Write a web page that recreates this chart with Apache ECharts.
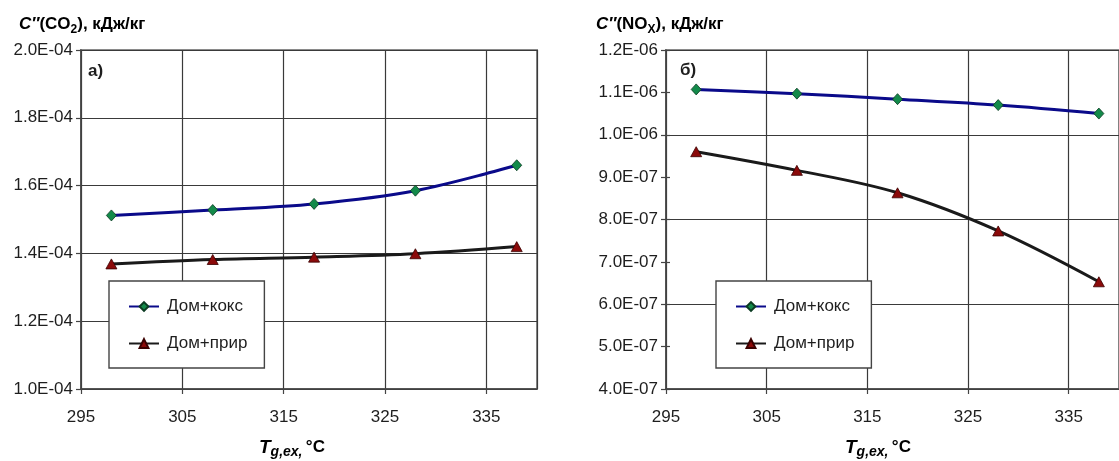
<!DOCTYPE html>
<html>
<head>
<meta charset="utf-8">
<script src="https://cdn.jsdelivr.net/npm/echarts@6/dist/echarts.min.js"></script>
<style>
html,body{margin:0;padding:0;background:#fff;}
#chart{width:1119px;height:461px;}
</style>
</head>
<body>
<div id="chart"></div>
<script>
// ---- data ----
const xValues = [298, 308, 318, 328, 338];
const seriesNames = ['Дом+кокс', 'Дом+прир'];
const co2Koks = [1.512e-4, 1.528e-4, 1.546e-4, 1.585e-4, 1.660e-4];
const co2Prir = [1.369e-4, 1.382e-4, 1.389e-4, 1.399e-4, 1.420e-4];
const noxKoks = [1.107e-6, 1.097e-6, 1.084e-6, 1.070e-6, 1.050e-6];
const noxPrir = [9.60e-7, 9.16e-7, 8.63e-7, 7.73e-7, 6.53e-7];
const xTickLabels = ['295', '305', '315', '325', '335'];
const yTicksCO2 = ['1.0E-04', '1.2E-04', '1.4E-04', '1.6E-04', '1.8E-04', '2.0E-04'];
const yTicksNOx = ['4.0E-07', '5.0E-07', '6.0E-07', '7.0E-07', '8.0E-07', '9.0E-07', '1.0E-06', '1.1E-06', '1.2E-06'];

const FONT = '"Liberation Sans", Arial, sans-serif';
const AX = '#444';
const GRIDC = '#3a3a3a';
const TXT = '#1e1e1e';

function pairs(arr) { return xValues.map((x, i) => [x, arr[i]]); }

function xAxisCfg(gi) {
  return {
    type: 'value', gridIndex: gi, min: 295, max: 340, interval: 10,
    axisLine: { show: true, lineStyle: { color: AX, width: 1.5 } },
    axisTick: { show: true, length: 5, lineStyle: { color: AX, width: 1.2 } },
    axisLabel: {
      showMaxLabel: false, margin: 20, fontFamily: FONT, fontSize: 17, color: TXT,
      formatter: v => { const i = Math.round((v - 295) / 10); return xTickLabels[i] !== undefined ? xTickLabels[i] : ''; }
    },
    splitLine: { show: true, lineStyle: { color: GRIDC, width: 1.2 } }
  };
}

const blueStyle = {
  type: 'line', smooth: 0.35, symbol: 'diamond', symbolSize: [10, 11],
  lineStyle: { color: '#0a0a8a', width: 3 },
  itemStyle: { color: '#138a4a', borderColor: '#0b3b22', borderWidth: 0.8 },
  z: 5
};
const blackStyle = {
  type: 'line', smooth: 0.35, symbol: 'triangle', symbolSize: [11, 10],
  lineStyle: { color: '#1a1a1a', width: 3 },
  itemStyle: { color: '#8b0a0a', borderColor: '#3a0000', borderWidth: 0.8 },
  z: 4
};

function legendCfg(left) {
  return {
    left: left, top: 281, orient: 'vertical', data: seriesNames,
    backgroundColor: '#fff', borderColor: AX, borderWidth: 1.4,
    padding: [17, 17, 16, 19], itemGap: 20, itemWidth: 30, itemHeight: 11,
    selectedMode: false,
    textStyle: { fontFamily: FONT, fontSize: 17, color: TXT, padding: [0, 0, 0, 3] }
  };
}

const titleRich = {
  i: { fontFamily: FONT, fontSize: 17, fontWeight: 'bold', fontStyle: 'italic', color: TXT },
  b: { fontFamily: FONT, fontSize: 17, fontWeight: 'bold', color: TXT },
  sub: { fontFamily: FONT, fontSize: 12, fontWeight: 'bold', color: TXT, padding: [10, 0, 0, 0] }
};
const xNameRich = {
  T: { fontFamily: FONT, fontSize: 19, fontWeight: 'bold', fontStyle: 'italic', color: TXT },
  s: { fontFamily: FONT, fontSize: 14, fontWeight: 'bold', fontStyle: 'italic', color: TXT, padding: [10, 0, 0, 0] },
  b: { fontFamily: FONT, fontSize: 17, fontWeight: 'bold', color: TXT }
};

const option = {
  backgroundColor: '#fff',
  animation: false,
  grid: [
    { left: 81, top: 50, width: 456, height: 339, show: true, borderColor: '#8a8a8a', borderWidth: 2, backgroundColor: '#fff' },
    { left: 666, top: 50, width: 465, height: 339, show: true, borderColor: '#8a8a8a', borderWidth: 2, backgroundColor: '#fff' }
  ],
  xAxis: [xAxisCfg(0), xAxisCfg(1)],
  yAxis: [
    {
      type: 'value', gridIndex: 0, position: 'left', min: 1e-4, max: 2e-4, interval: 2e-5,
      axisLine: { show: true, lineStyle: { color: AX, width: 1.5 } },
      axisTick: { show: true, length: 5, lineStyle: { color: AX, width: 1.2 } },
      axisLabel: {
        margin: 8, fontFamily: FONT, fontSize: 17, color: TXT,
        formatter: v => yTicksCO2[Math.round((v - 1e-4) / 2e-5)] || ''
      },
      splitLine: { show: true, lineStyle: { color: GRIDC, width: 1.2 } }
    },
    {
      type: 'value', gridIndex: 1, position: 'left', min: 4e-7, max: 1.2e-6, interval: 1e-7,
      axisLine: { show: true, lineStyle: { color: AX, width: 1.5 } },
      axisTick: { show: true, length: 5, lineStyle: { color: AX, width: 1.2 } },
      axisLabel: {
        margin: 8, fontFamily: FONT, fontSize: 17, color: TXT,
        formatter: v => yTicksNOx[Math.round((v - 4e-7) / 1e-7)] || ''
      },
      splitLine: { show: false }
    },
    {
      type: 'value', gridIndex: 1, position: 'left', offset: 0, min: 4e-7, max: 1.2e-6, interval: 2e-7,
      axisLine: { show: false }, axisTick: { show: false }, axisLabel: { show: false },
      splitLine: { show: true, lineStyle: { color: GRIDC, width: 1.2 } }
    },
    {
      type: 'value', gridIndex: 1, position: 'left', offset: 0, min: 4e-7, max: 1.2e-6, interval: 1e-7,
      axisLine: { show: false }, axisLabel: { show: false }, splitLine: { show: false },
      axisTick: { show: true, inside: true, length: 4, lineStyle: { color: AX, width: 1.2 } }
    }
  ],
  legend: [legendCfg(109), legendCfg(716)],
  series: [
    Object.assign({ name: seriesNames[0], xAxisIndex: 0, yAxisIndex: 0, data: pairs(co2Koks) }, blueStyle),
    Object.assign({ name: seriesNames[1], xAxisIndex: 0, yAxisIndex: 0, data: pairs(co2Prir) }, blackStyle),
    Object.assign({ name: seriesNames[0], xAxisIndex: 1, yAxisIndex: 1, data: pairs(noxKoks) }, blueStyle),
    Object.assign({ name: seriesNames[1], xAxisIndex: 1, yAxisIndex: 1, data: pairs(noxPrir) }, blackStyle)
  ],
  graphic: [
    { type: 'text', left: 19, top: 16, style: { text: '{i|C″}{b|(CO}{sub|2}{b|), кДж/кг}', rich: titleRich } },
    { type: 'text', left: 596, top: 16, style: { text: '{i|C″}{b|(NO}{sub|X}{b|), кДж/кг}', rich: titleRich } },
    { type: 'text', left: 88, top: 63, z: 10, style: { text: 'а)', font: 'bold 17px ' + FONT, fill: TXT } },
    { type: 'text', left: 680, top: 62, z: 10, style: { text: 'б)', font: 'bold 17px ' + FONT, fill: TXT } },
    { type: 'text', left: 259, top: 438, style: { text: '{T|T}{s|g,ex}{s|,} {b|°C}', rich: xNameRich } },
    { type: 'text', left: 845, top: 438, style: { text: '{T|T}{s|g,ex}{s|,} {b|°C}', rich: xNameRich } }
  ]
};

const chart = echarts.init(document.getElementById('chart'), null, { renderer: 'canvas' });
chart.setOption(option);
</script>
</body>
</html>
